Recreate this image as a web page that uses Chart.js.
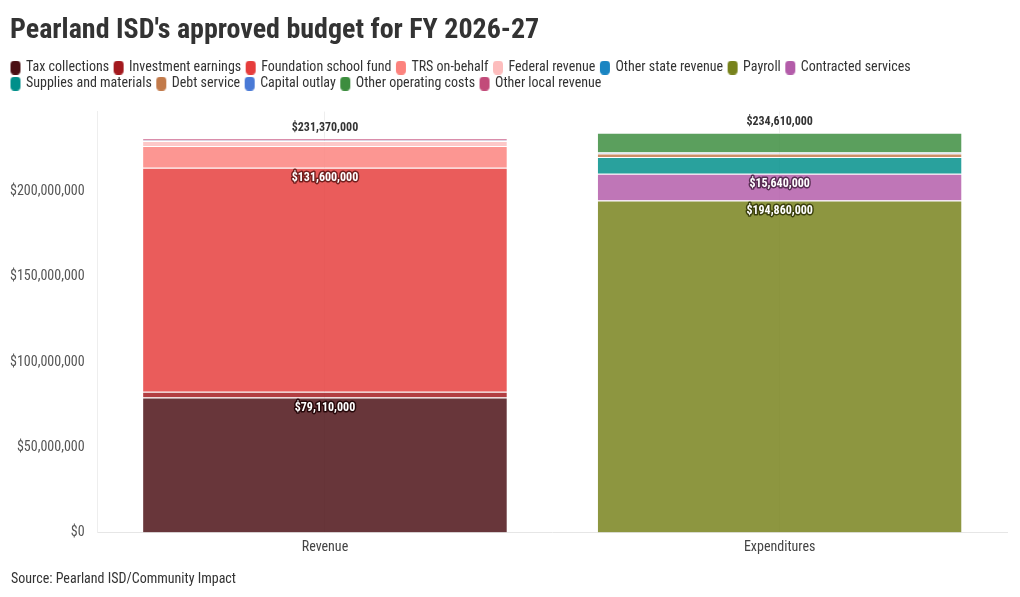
<!DOCTYPE html>
<html>
<head>
<meta charset="utf-8">
<script src="https://cdn.jsdelivr.net/npm/chart.js@4"></script>
<style>
html,body{margin:0;padding:0;background:#fff;}
#wrap{width:1020px;height:597px;position:relative;}
</style>
</head>
<body>
<div id="wrap"><canvas id="c" width="1020" height="597"></canvas></div>
<script>
const categories = ["Revenue", "Expenditures"];
const seriesNames = ["Tax collections", "Investment earnings", "Foundation school fund", "TRS on-behalf", "Federal revenue", "Other state revenue", "Payroll", "Contracted services", "Supplies and materials", "Debt service", "Capital outlay", "Other operating costs", "Other local revenue"];
// values in dollars: [Revenue, Expenditures]
const taxCollections      = [79110000, 0];
const investmentEarnings  = [3390000, 0];
const foundationFund      = [131600000, 0];
const trsOnBehalf         = [12670000, 0];
const federalRevenue      = [3000000, 0];
const otherStateRevenue   = [300000, 0];
const payroll             = [0, 194860000];
const contractedServices  = [0, 15640000];
const suppliesMaterials   = [0, 9900000];
const debtService         = [0, 2000000];
const capitalOutlay       = [0, 600000];
const otherOperatingCosts = [0, 11610000];
const otherLocalRevenue   = [1300000, 0];
const seriesValues = [taxCollections, investmentEarnings, foundationFund, trsOnBehalf, federalRevenue, otherStateRevenue, payroll, contractedServices, suppliesMaterials, debtService, capitalOutlay, otherOperatingCosts, otherLocalRevenue];
const yTicks = [0, 50000000, 100000000, 150000000, 200000000];
const colors = ["#4b1014", "#a3191e", "#e63d3c", "#fc827d", "#fdbdbd", "#1a85c2", "#77821c", "#b35ca9", "#008f8a", "#c27a4a", "#4a7ad6", "#3c8d3e", "#c24a79"];
const labelThreshold = 15000000;
const sourceText = 'Source: Pearland ISD/Community Impact';

const FONT = "'Roboto Condensed', 'Liberation Sans Narrow', 'DejaVu Sans Condensed', 'Arial Narrow', Roboto, sans-serif";

function hexA(hex, a) {
  const r = parseInt(hex.slice(1,3),16), g = parseInt(hex.slice(3,5),16), b = parseInt(hex.slice(5,7),16);
  return `rgba(${r},${g},${b},${a})`;
}
function darker(hex, f) {
  const r = parseInt(hex.slice(1,3),16), g = parseInt(hex.slice(3,5),16), b = parseInt(hex.slice(5,7),16);
  return `rgb(${Math.round(r*f)},${Math.round(g*f)},${Math.round(b*f)})`;
}
const fmt = v => '$' + Math.round(v).toLocaleString('en-US');

function markerCanvas(color) {
  const cv = document.createElement('canvas');
  cv.width = 16; cv.height = 14;
  const c = cv.getContext('2d');
  c.fillStyle = color;
  c.beginPath();
  c.roundRect(5, 0, 10, 14, 4);
  c.fill();
  return cv;
}
const markers = colors.map(markerCanvas);

const datasets = seriesNames.map((name, i) => ({
  label: name,
  data: seriesValues[i].map(v => v === 0 ? null : v),
  backgroundColor: hexA(colors[i], 0.84),
  borderColor: '#ffffff',
  borderWidth: {top: 1, left: 0, right: 0, bottom: 0},
  borderSkipped: false,
  stack: 's',
  barPercentage: 0.8,
  categoryPercentage: 1.0
}));

const tweakPlugin = {
  id: 'tweak',
  beforeInit(chart) {
    const lg = chart.legend;
    const orig = lg.fit;
    lg.fit = function () { orig.call(this); this.height += 11; };
  },
  afterLayout(chart) {
    if (chart.titleBlock) chart.titleBlock.left = 10;
    if (chart.legend) chart.legend.left = 6;
    chart.boxes.forEach(b => {
      if (b.options && b.options.text === sourceText) b.left = 11;
    });
  }
};

const labelPlugin = {
  id: 'labels',
  afterDatasetsDraw(chart) {
    const ctx = chart.ctx;
    ctx.save();
    ctx.textAlign = 'center';
    ctx.textBaseline = 'middle';
    ctx.lineJoin = 'round';
    const tops = categories.map(() => ({y: Infinity, x: 0, total: 0}));
    chart.data.datasets.forEach((ds, di) => {
      const meta = chart.getDatasetMeta(di);
      if (meta.hidden) return;
      meta.data.forEach((el, idx) => {
        const v = ds.data[idx];
        if (v == null) return;
        tops[idx].total += v;
        if (el.y < tops[idx].y) { tops[idx].y = el.y; tops[idx].x = el.x; }
        if (v >= labelThreshold) {
          ctx.font = `bold 12px ${FONT}`;
          ctx.lineWidth = 3;
          ctx.strokeStyle = darker(colors[di], 0.5);
          const t = fmt(v);
          ctx.strokeText(t, el.x, el.y + 10.5);
          ctx.fillStyle = '#ffffff';
          ctx.fillText(t, el.x, el.y + 10.5);
        }
      });
    });
    tops.forEach(t => {
      if (!isFinite(t.y)) return;
      ctx.font = `bold 12px ${FONT}`;
      ctx.lineWidth = 3;
      ctx.strokeStyle = '#ffffff';
      const s = fmt(t.total);
      ctx.strokeText(s, t.x, t.y - 10.5);
      ctx.fillStyle = '#333333';
      ctx.fillText(s, t.x, t.y - 10.5);
    });
    ctx.restore();
  }
};

new Chart(document.getElementById('c'), {
  type: 'bar',
  data: { labels: categories, datasets },
  plugins: [tweakPlugin, labelPlugin],
  options: {
    responsive: false,
    animation: false,
    devicePixelRatio: 1,
    layout: { padding: { left: 5, right: 13, top: 0, bottom: 6 } },
    plugins: {
      title: {
        display: true,
        text: "Pearland ISD's approved budget for FY 2026-27",
        align: 'start',
        color: '#333333',
        font: { family: FONT, size: 28, weight: 'bold' },
        padding: { top: 14, bottom: 11 }
      },
      subtitle: {
        display: true,
        text: sourceText,
        position: 'bottom',
        align: 'start',
        color: '#333333',
        font: { family: FONT, size: 14 },
        padding: { top: 8, bottom: 3 }
      },
      legend: {
        display: true,
        position: 'top',
        align: 'start',
        labels: {
          usePointStyle: true,
          pointStyleWidth: 11,
          boxHeight: 13,
          padding: 2,
          color: '#333333',
          font: { family: FONT, size: 14 },
          generateLabels(chart) {
            return chart.data.datasets.map((ds, i) => ({
              text: ds.label,
              fillStyle: colors[i],
              strokeStyle: colors[i],
              lineWidth: 0,
              pointStyle: markers[i],
              hidden: false,
              datasetIndex: i,
              fontColor: '#333333'
            }));
          }
        }
      },
      tooltip: { enabled: false }
    },
    scales: {
      x: {
        stacked: true,
        grid: { display: true, offset: false, color: '#eeeeee', drawTicks: false },
        border: { display: true, color: '#e6e6e6' },
        ticks: { color: '#444444', font: { family: FONT, size: 14 }, padding: 7 }
      },
      y: {
        stacked: true,
        min: 0,
        max: 247000000,
        grid: { display: false },
        border: { display: true, color: '#eeeeee' },
        afterBuildTicks(axis) { axis.ticks = yTicks.map(v => ({ value: v })); },
        ticks: {
          color: '#555555',
          font: { family: FONT, size: 14 },
          padding: 5,
          callback: v => fmt(v)
        }
      }
    }
  }
});
</script>
</body>
</html>
